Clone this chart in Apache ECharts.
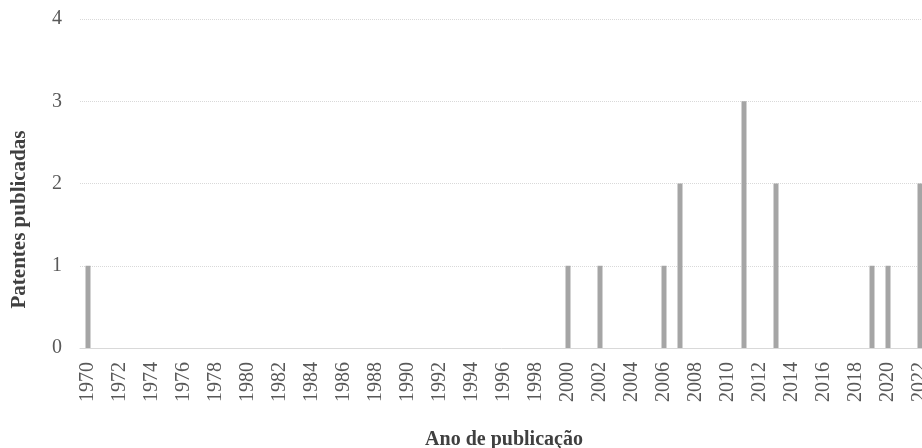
<!DOCTYPE html>
<html><head><meta charset="utf-8">
<script src="https://cdn.jsdelivr.net/npm/echarts@6/dist/echarts.min.js"></script>
<style>html,body{margin:0;padding:0;background:#fff}#c{width:922px;height:448px}</style>
</head><body><div id="c"></div>
<script>
const years = [];
for (let y = 1970; y <= 2022; y++) years.push(String(y));
const patentYears = ['1970','2000','2002','2006','2007','2011','2013','2019','2020','2022'];
const patentCounts = [1,1,1,1,2,3,2,1,1,2];
const yTicks = [0,1,2,3,4];
const values = years.map(y => { const i = patentYears.indexOf(y); return i >= 0 ? patentCounts[i] : 0; });
const chart = echarts.init(document.getElementById('c'));
chart.setOption({
  animation: false,
  grid: { left: 80, top: 19, bottom: 100, width: 848, containLabel: false, outerBoundsMode: 'none' },
  xAxis: {
    type: 'category', data: years,
    name: 'Ano de publicação', nameLocation: 'middle', nameGap: 82,
    nameTextStyle: { fontFamily: 'Liberation Serif', fontWeight: 'bold', fontSize: 20, color: '#404040', padding: [0,0,0,0] },
    axisLine: { lineStyle: { color: '#d9d9d9' } },
    axisTick: { show: false },
    axisLabel: { interval: 1, rotate: 90, fontFamily: 'Liberation Serif', fontSize: 20, color: '#595959', margin: 14 }
  },
  yAxis: {
    type: 'value', min: 0, max: 4, interval: 1,
    name: 'Patentes publicadas', nameLocation: 'middle', nameGap: 50,
    nameTextStyle: { fontFamily: 'Liberation Serif', fontWeight: 'bold', fontSize: 21, color: '#404040', padding: [0,72,0,0] },
    axisLabel: { fontFamily: 'Liberation Serif', fontSize: 20, color: '#595959', margin: 18, formatter: v => yTicks.includes(v) ? String(v) : '' },
    splitLine: { lineStyle: { color: '#d9d9d9', type: 'dotted', width: 1 } },
    axisLine: { show: false }, axisTick: { show: false }
  },
  series: [{ type: 'bar', data: values, barWidth: 5, itemStyle: { color: '#a5a5a5' } }]
});
</script></body></html>
